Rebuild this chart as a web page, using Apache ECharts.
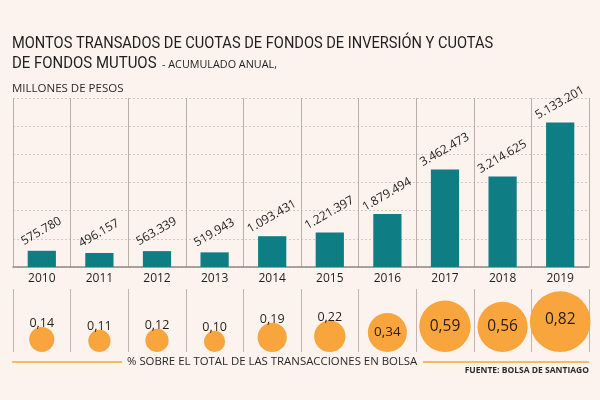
<!DOCTYPE html>
<html lang="es">
<head>
<meta charset="UTF-8">
<title>Montos transados</title>
<script src="https://cdn.jsdelivr.net/npm/echarts@6/dist/echarts.min.js"></script>
<style>
  html, body { margin: 0; padding: 0; background: #fcf3ee; }
</style>
</head>
<body>
<div id="chart" style="width:600px;height:400px;"></div>
<script>
    // datos
    var years = ['2010', '2011', '2012', '2013', '2014', '2015', '2016', '2017', '2018', '2019'];
    var montos = [575780, 496157, 563339, 519943, 1093431, 1221397, 1879494, 3462473, 3214625, 5133201];
    var porcentajes = [0.14, 0.11, 0.12, 0.10, 0.19, 0.22, 0.34, 0.59, 0.56, 0.82];

    var teal = '#0e7d84';
    var orange = '#f8a53e';
    var font = 'Roboto, "Liberation Sans", sans-serif';
    var font2 = '"Open Sans", "Liberation Sans", sans-serif';
    var ink = '#1e1e1e';

    function fmtMiles(v) {
        return String(v).replace(/\B(?=(\d{3})+(?!\d))/g, '.');
    }

    // burbujas: area proporcional al porcentaje
    var burbujas = [];
    for (var i = 0; i < porcentajes.length; i++) {
        var p = porcentajes[i];
        var d = 67 * Math.sqrt(p);
        var grande = p >= 0.3;
        burbujas.push({
            value: [i, 0],
            symbolSize: d,
            symbolOffset: [0, -d / 2],
            label: grande ? {
                position: 'inside',
                fontSize: p >= 0.5 ? 15.5 : 13.5,
                offset: [0, p >= 0.8 ? -2 : 0]
            } : {
                position: 'top',
                distance: -3,
                fontSize: 12.5
            }
        });
    }

    var ct = echarts.init(document.getElementById('chart'));
    var option = {
        backgroundColor: '#fcf3ee',
        animation: false,
        grid: [
            { left: 13, right: 11, top: 98, height: 169 },
            { left: 13, right: 11, top: 289, bottom: 48 }
        ],
        xAxis: [
            {
                type: 'category', gridIndex: 0, data: years,
                axisLine: { lineStyle: { color: '#8f8a86', width: 1.5 } },
                axisTick: { show: false },
                axisLabel: { color: ink, fontFamily: font2, fontSize: 12, margin: 6 },
                splitLine: { show: true, lineStyle: { color: '#b8afa9', width: 1 } }
            },
            {
                type: 'category', gridIndex: 1, data: years,
                axisLine: { show: false },
                axisTick: { show: false },
                axisLabel: { show: false },
                splitLine: { show: true, lineStyle: { color: '#bdb5af', width: 1 } }
            }
        ],
        yAxis: [
            {
                type: 'value', gridIndex: 0, min: 0, max: 6000000, interval: 1000000,
                axisLine: { show: false }, axisTick: { show: false }, axisLabel: { show: false },
                splitLine: { lineStyle: { color: '#cfc8c3', type: [2, 2] } }
            },
            {
                type: 'value', gridIndex: 1, min: 0, max: 1,
                axisLine: { show: false }, axisTick: { show: false }, axisLabel: { show: false },
                splitLine: { show: false }
            }
        ],
        series: [
            {
                type: 'bar', xAxisIndex: 0, yAxisIndex: 0,
                data: montos,
                barWidth: '49%',
                itemStyle: { color: teal },
                label: {
                    show: true, position: 'top', rotate: 30, distance: 13,
                    offset: [3, 0],
                    color: ink, fontFamily: font2, fontSize: 12,
                    formatter: function (p) { return fmtMiles(p.value); }
                }
            },
            {
                type: 'scatter', xAxisIndex: 1, yAxisIndex: 1,
                data: burbujas,
                clip: false,
                itemStyle: { color: orange, opacity: 1 },
                label: {
                    show: true, color: '#2a1c10', fontFamily: font2,
                    formatter: function (p) { return porcentajes[p.dataIndex].toFixed(2).replace('.', ','); }
                }
            }
        ],
        graphic: [
            // titulo (letra condensada)
            {
                type: 'text', x: 12, y: 44, scaleX: 0.86,
                style: { text: 'MONTOS TRANSADOS DE CUOTAS DE FONDOS DE INVERSIÓN Y CUOTAS', fill: ink, font: '17px ' + font, verticalAlign: 'middle' }
            },
            {
                type: 'text', x: 12, y: 63.5, scaleX: 0.88,
                style: { text: 'DE FONDOS MUTUOS', fill: ink, font: '17px ' + font, verticalAlign: 'middle' }
            },
            {
                type: 'text', x: 162, y: 65,
                style: { text: '- ACUMULADO ANUAL,', fill: ink, font: '10.8px ' + font2, verticalAlign: 'middle' }
            },
            {
                type: 'text', x: 12, y: 89,
                style: { text: 'MILLONES DE PESOS', fill: '#2a2a2a', font: '11.5px ' + font2, verticalAlign: 'middle' }
            },
            // pie
            { type: 'line', shape: { x1: 12, y1: 362, x2: 122, y2: 362 }, style: { stroke: orange, lineWidth: 1.5 } },
            { type: 'line', shape: { x1: 423, y1: 362, x2: 589, y2: 362 }, style: { stroke: orange, lineWidth: 1.5 } },
            {
                type: 'text', left: 127, top: 356,
                style: { text: '% SOBRE EL TOTAL DE LAS TRANSACCIONES EN BOLSA', fill: '#2a2a2a', font: '11.4px ' + font2 }
            },
            {
                type: 'text', right: 11, top: 366,
                style: { text: 'FUENTE: BOLSA DE SANTIAGO', fill: '#2a2a2a', font: 'bold 8.5px ' + font2 }
            }
        ]
    };
    ct.setOption(option);
</script>
</body>
</html>
